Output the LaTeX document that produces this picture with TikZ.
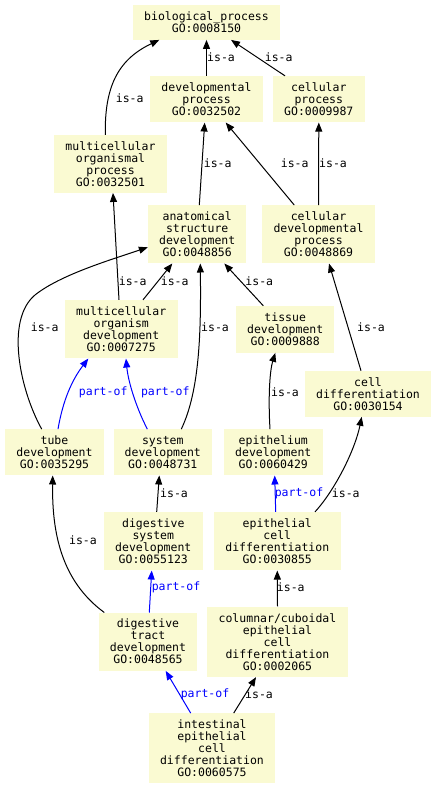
\documentclass[tikz,border=0pt]{standalone}
\usepackage{fontspec}
\setmonofont{DejaVu Sans Mono}
\usetikzlibrary{arrows.meta}
\definecolor{gofill}{RGB}{250,250,210}
\definecolor{partblue}{RGB}{0,0,255}
\begin{document}
\begin{tikzpicture}[x=1pt,y=-1pt,
  gobox/.style={fill=gofill,draw=none,inner sep=0pt,align=center,
    font=\ttfamily\fontsize{11.5}{12}\selectfont},
  lbl/.style={inner sep=0pt,font=\ttfamily\fontsize{11.5}{12}\selectfont},
  isa/.style={draw=black,line width=1pt,-{Triangle[length=9pt,width=7pt]}},
  partof/.style={draw=partblue,line width=1pt,-{Triangle[length=9pt,width=7pt]}},
  isalbl/.style={lbl,text=black},
  partlbl/.style={lbl,text=partblue}]
\fill[white] (0,0) rectangle (437,789);
\useasboundingbox (0,0) rectangle (437,789);

% nodes
\node[gobox,minimum width=147pt,minimum height=34.4pt] (bp) at (206.5,22.5) {biological\char"5F process\\GO:0008150};
\node[gobox,minimum width=113pt,minimum height=46.3pt] (dp) at (206.5,99.2) {developmental\\process\\GO:0032502};
\node[gobox,minimum width=91.7pt,minimum height=46.3pt] (cp) at (318.8,99.2) {cellular\\process\\GO:0009987};
\node[gobox,minimum width=113pt,minimum height=57.7pt] (mop) at (110.5,163.9) {multicellular\\organismal\\process\\GO:0032501};
\node[gobox,minimum width=98.3pt,minimum height=58pt] (asd) at (197.2,234.3) {anatomical\\structure\\development\\GO:0048856};
\node[gobox,minimum width=113pt,minimum height=58pt] (cdp) at (318.5,234.3) {cellular\\developmental\\process\\GO:0048869};
\node[gobox,minimum width=113pt,minimum height=58.3pt] (mod) at (121.2,329.2) {multicellular\\organism\\development\\GO:0007275};
\node[gobox,minimum width=98.3pt,minimum height=46.7pt] (td) at (285.2,329.3) {tissue\\development\\GO:0009888};
\node[gobox,minimum width=126pt,minimum height=45.7pt] (cd) at (368,393.8) {cell\\differentiation\\GO:0030154};
\node[gobox,minimum width=99pt,minimum height=46pt] (tube) at (54.5,452.3) {tube\\development\\GO:0035295};
\node[gobox,minimum width=98.3pt,minimum height=46pt] (sd) at (162.8,452.3) {system\\development\\GO:0048731};
\node[gobox,minimum width=98.7pt,minimum height=46pt] (ed) at (273.3,452.3) {epithelium\\development\\GO:0060429};
\node[gobox,minimum width=98.7pt,minimum height=58.3pt] (dsd) at (153.3,541.2) {digestive\\system\\development\\GO:0055123};
\node[gobox,minimum width=126.7pt,minimum height=58.3pt] (ecd) at (277.3,541.2) {epithelial\\cell\\differentiation\\GO:0030855};
\node[gobox,minimum width=98pt,minimum height=58pt] (dtd) at (148,641.7) {digestive\\tract\\development\\GO:0048565};
\node[gobox,minimum width=141pt,minimum height=70.3pt] (ccd) at (277.5,641.8) {columnar/cuboidal\\epithelial\\cell\\differentiation\\GO:0002065};
\node[gobox,minimum width=126.7pt,minimum height=70pt] (ied) at (212,748.3) {intestinal\\epithelial\\cell\\differentiation\\GO:0060575};

% edges
\draw[isa] (dp.north) -- (bp.south);
\draw[isa] ([xshift=-33.8pt]cp.north) -- ([xshift=24.5pt]bp.south);
\draw[isa] ([xshift=-5.2pt]mop.north) .. controls (104.5,88) and (117,60) .. ([xshift=-47.2pt]bp.south);
\draw[isa] ([xshift=2.1pt]asd.north) -- ([xshift=-1.8pt]dp.south);
\draw[isa] ([xshift=-24.2pt]cdp.north) -- ([xshift=19.2pt]dp.south);
\draw[isa] (cdp.north) -- (cp.south);
\draw[isa] ([xshift=-2.2pt]mod.north) -- ([xshift=2.5pt]mop.south);
\draw[isa] ([xshift=21.8pt]mod.north) -- ([xshift=-24.9pt]asd.south);
\draw[isa] ([xshift=-12.8pt]tube.north) .. controls (20,390) and (5,320) .. (35,295) .. controls (60,275) and (110,260) .. ([yshift=-13pt]asd.west);
\draw[isa] ([xshift=18.5pt]sd.north) .. controls (200,390) and (201,330) .. ([xshift=3.1pt]asd.south);
\draw[isa] ([xshift=-21.9pt]td.north) -- ([xshift=27.1pt]asd.south);
\draw[isa] ([xshift=-7pt]cd.north) -- ([xshift=10.5pt]cdp.south);
\draw[partof] ([xshift=3.5pt]tube.north) .. controls (63,400) and (72,380) .. ([xshift=-32.9pt]mod.south);
\draw[partof] ([xshift=-15.5pt]sd.north) .. controls (135,405) and (128,380) .. ([xshift=4.8pt]mod.south);
\draw[isa] ([xshift=-3.3pt]ed.north) .. controls (268,395) and (270,370) .. ([xshift=-9.9pt]td.south);
\draw[partof] ([xshift=-1.6pt]ecd.north) -- ([xshift=1.4pt]ed.south);
\draw[isa] ([xshift=37.7pt]ecd.north) .. controls (335,490) and (355,450) .. ([xshift=-6.3pt]cd.south);
\draw[isa] ([xshift=3.4pt]dsd.north) -- ([xshift=-3.5pt]sd.south);
\draw[isa] ([xshift=-43.7pt]dtd.north) .. controls (60,580) and (52,530) .. ([xshift=-1.8pt]tube.south);
\draw[partof] ([xshift=1.3pt]dtd.north) -- ([xshift=-1.6pt]dsd.south);
\draw[isa] (ccd.north) -- (ecd.south);
\draw[partof] ([xshift=-21.3pt]ied.north) -- ([xshift=17.7pt]dtd.south);
\draw[isa] ([xshift=21.7pt]ied.north) -- ([xshift=-21.5pt]ccd.south);

% labels
\node[isalbl] (l1) at (221,57) {is-a};
\node[isalbl] (l2) at (278.7,57) {is-a};
\node[isalbl] (l3) at (129.7,98.3) {is-a};
\node[isalbl] (l4) at (217.7,163.3) {is-a};
\node[isalbl] (l5) at (294.7,163.3) {is-a};
\node[isalbl] (l6) at (333,163.3) {is-a};
\node[isalbl] (l7) at (132.7,281.3) {is-a};
\node[isalbl] (l8) at (174.7,281.3) {is-a};
\node[isalbl] (l11) at (259.3,281.3) {is-a};
\node[isalbl] (l9) at (44.7,327.7) {is-a};
\node[isalbl] (l10) at (215,327.7) {is-a};
\node[isalbl] (l12) at (371,327.7) {is-a};
\node[partlbl] (l13) at (103.2,392.7) {part-of};
\node[partlbl] (l14) at (165.3,392.7) {part-of};
\node[isalbl] (l15) at (285,392.7) {is-a};
\node[isalbl] (l18) at (174,493.3) {is-a};
\node[partlbl] (l16) at (299,493.3) {part-of};
\node[isalbl] (l17) at (345.8,493.3) {is-a};
\node[isalbl] (l19) at (83,540) {is-a};
\node[partlbl] (l20) at (176,587.3) {part-of};
\node[isalbl] (l21) at (290.8,587.3) {is-a};
\node[partlbl] (l22) at (205,694.3) {part-of};
\node[isalbl] (l23) at (259,694.3) {is-a};
\end{tikzpicture}
\end{document}
